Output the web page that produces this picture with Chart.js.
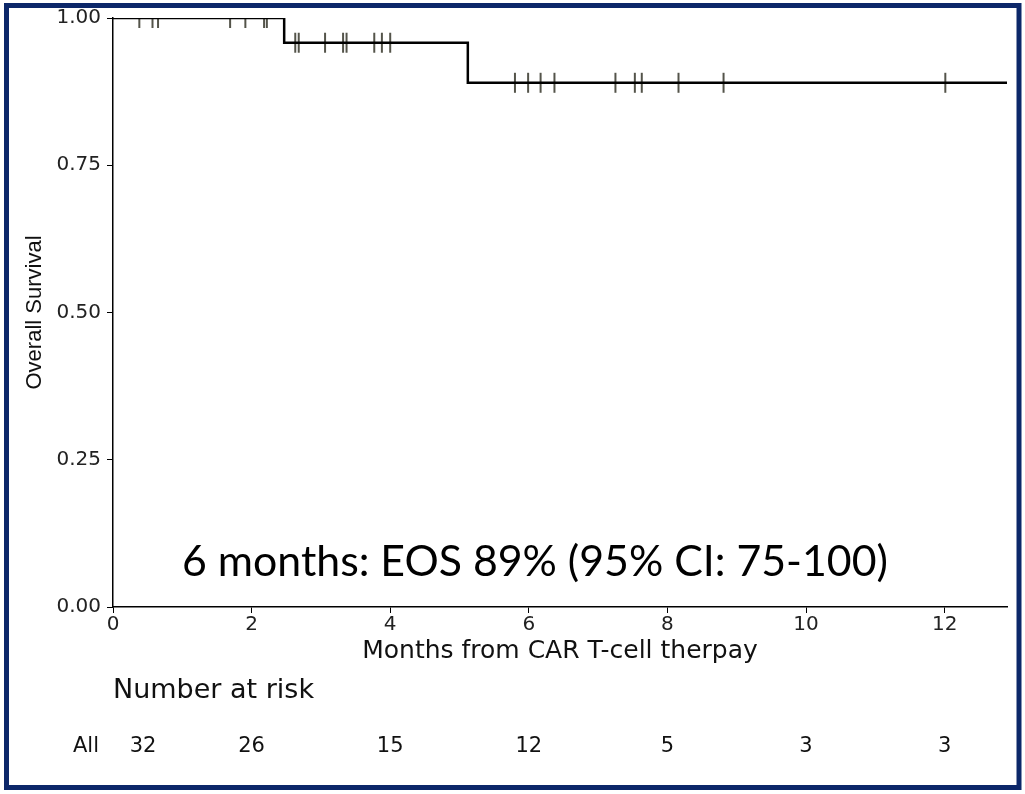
<!DOCTYPE html>
<html>
<head>
<meta charset="utf-8">
<script src="https://cdn.jsdelivr.net/npm/chart.js@4.4.0/dist/chart.umd.min.js"></script>
<style>
  body { margin: 0; background: #fff; }
</style>
</head>
<body>
<canvas id="kmChart" width="1025" height="794"></canvas>
<script>
// Kaplan-Meier step curve (months, survival)
var stepTimes = [0, 2.47, 5.12, 12.9];
var stepSurv = [1, 0.958, 0.89, 0.89];

// censored patients (months)
var censorTimes = [0.38, 0.57, 0.65, 1.69, 1.91, 2.18, 2.22, 2.63, 2.68, 3.06, 3.32, 3.37,
  3.77, 3.88, 4.00, 5.80, 5.99, 6.17, 6.37, 7.25, 7.53, 7.63, 8.16, 8.81, 12.01];

// number at risk table
var riskTimes = [0, 2, 4, 6, 8, 10, 12];
var riskCounts = [32, 26, 15, 12, 5, 3, 3];

var annotationText = '6 months: EOS 89% (95% CI: 75-100)';

function survAt(t) {
  var s = stepSurv[0];
  for (var i = 0; i < stepTimes.length; i++) {
    if (stepTimes[i] <= t) s = stepSurv[i];
  }
  return s;
}

var stepPoints = stepTimes.map(function (t, i) { return { x: t, y: stepSurv[i] }; });
var censorPoints = censorTimes.map(function (t) { return { x: t, y: survAt(t) }; });

var extras = {
  id: 'extras',
  beforeDraw: function (chart) {
    var ctx = chart.ctx;
    ctx.save();
    ctx.fillStyle = '#fff';
    ctx.fillRect(0, 0, chart.width, chart.height);
    ctx.restore();
  },
  afterDraw: function (chart) {
    var ctx = chart.ctx;
    var xs = chart.scales.x;
    ctx.save();

    // annotation
    var size = 44;
    ctx.font = size + 'px Lato';
    var w = ctx.measureText(annotationText).width;
    size = size * 706 / w;
    ctx.font = size + 'px Lato';
    ctx.fillStyle = '#000';
    ctx.textAlign = 'center';
    ctx.textBaseline = 'middle';
    ctx.fillText(annotationText, 535, 562);

    // number at risk
    ctx.textAlign = 'left';
    ctx.textBaseline = 'alphabetic';
    ctx.font = '27px "DejaVu Sans"';
    ctx.fillStyle = '#111';
    ctx.fillText('Number at risk', 113, 698);

    ctx.font = '21px "DejaVu Sans"';
    ctx.textAlign = 'right';
    ctx.fillText('All', 99, 752);
    ctx.textAlign = 'center';
    riskTimes.forEach(function (t, i) {
      var px = xs.getPixelForValue(t);
      if (i === 0) px += 30;
      ctx.fillText(String(riskCounts[i]), px, 752);
    });

    // frame
    ctx.strokeStyle = '#0c2769';
    ctx.lineWidth = 5;
    ctx.strokeRect(6.5, 5.5, 1012.5, 782);
    ctx.restore();
  }
};

var ctx = document.getElementById('kmChart').getContext('2d');
var kmChart = new Chart(ctx, {
  type: 'line',
  data: {
    datasets: [{
      label: 'All',
      data: stepPoints,
      stepped: 'before',
      borderColor: '#000',
      borderWidth: 2.5,
      pointRadius: 0,
      fill: false
    }, {
      label: 'Censored',
      data: censorPoints,
      showLine: false,
      pointStyle: 'line',
      rotation: 90,
      pointRadius: 10,
      pointHoverRadius: 10,
      pointBorderWidth: 2,
      pointBorderColor: '#54544a',
      borderColor: '#54544a'
    }]
  },
  options: {
    responsive: false,
    animation: false,
    layout: {
      padding: { left: 12, top: 15, right: 18, bottom: 128 }
    },
    plugins: {
      legend: { display: false },
      tooltip: { enabled: false }
    },
    scales: {
      x: {
        type: 'linear',
        min: 0,
        max: 12.9,
        afterFit: function (scale) { scale.height = 59; },
        ticks: {
          stepSize: 2,
          includeBounds: false,
          maxRotation: 0,
          padding: 0,
          color: '#222',
          font: { family: 'DejaVu Sans', size: 20 }
        },
        grid: { drawOnChartArea: false, drawTicks: true, tickLength: 6, color: '#000' },
        border: { display: true, color: '#000', width: 1.5 },
        title: {
          display: true,
          text: 'Months from CAR T-cell therpay',
          color: '#111',
          font: { family: 'DejaVu Sans', size: 25 },
          padding: { top: 0, bottom: 0 }
        }
      },
      y: {
        min: 0,
        max: 1,
        afterFit: function (scale) { scale.width = 101; },
        ticks: {
          stepSize: 0.25,
          padding: 6,
          color: '#222',
          font: { family: 'DejaVu Sans', size: 20 },
          callback: function (v) { return v.toFixed(2); }
        },
        grid: { drawOnChartArea: false, drawTicks: true, tickLength: 6, color: '#000' },
        border: { display: true, color: '#000', width: 1.5 },
        title: {
          display: true,
          text: 'Overall Survival',
          color: '#111',
          font: { family: 'Liberation Sans', size: 22 },
          padding: { top: 10, bottom: 0 }
        }
      }
    }
  },
  plugins: [extras]
});
</script>
</body>
</html>
